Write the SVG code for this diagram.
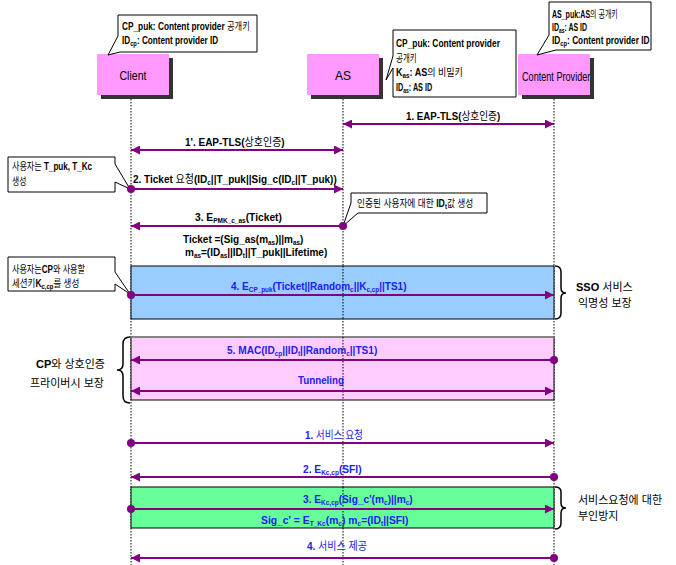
<svg xmlns="http://www.w3.org/2000/svg" width="676" height="565" viewBox="0 0 676 565">
<defs>
<marker id="ah" viewBox="0 0 10 10" refX="10" refY="5" markerWidth="9" markerHeight="9" markerUnits="userSpaceOnUse" orient="auto-start-reverse"><path d="M0,0 L10,5 L0,10 z" fill="#800080"/></marker>
<marker id="dot" viewBox="0 0 10 10" refX="5" refY="5" markerWidth="8" markerHeight="8" markerUnits="userSpaceOnUse"><circle cx="5" cy="5" r="5" fill="#800080"/></marker>
</defs>
<style>
text{font-family:"Liberation Sans","Noto Sans CJK KR",sans-serif;}
.t{font-size:10px;font-weight:bold;fill:#000;}
.m{font-size:11px;font-weight:bold;fill:#000;}
.b{font-size:11px;font-weight:bold;fill:#2020F0;}
.k{font-weight:normal;}
.s{font-size:7px;}
.lbl{font-size:12px;fill:#000;}
.msg{stroke:#800080;stroke-width:2;fill:none;}
.life{stroke:#000;stroke-width:1;stroke-dasharray:1.5,1.5;fill:none;}
.note{fill:#fff;stroke:#000;stroke-width:1;}
.brace{fill:none;stroke:#000;stroke-width:1.5;}
.side{font-size:11px;fill:#000;}
</style>
<rect width="676" height="565" fill="#fff"/>

<g id="lifelines">
<line class="life" x1="131" y1="99" x2="131" y2="565"/>
<line class="life" x1="343" y1="99" x2="343" y2="565"/>
<line class="life" x1="554" y1="99" x2="554" y2="565"/>
</g>

<g id="client">
<rect x="101" y="58" width="72" height="41" fill="#333"/>
<rect x="97" y="54" width="72" height="41" fill="#FF99FF"/>
<text class="lbl" transform="translate(119.5,80) scale(0.88,1)">Client</text>
</g>
<g id="as">
<rect x="311" y="58" width="72" height="41" fill="#333"/>
<rect x="307" y="54" width="72" height="41" fill="#FF99FF"/>
<text class="lbl" x="343" y="80" text-anchor="middle">AS</text>
</g>
<g id="cp">
<rect x="522" y="58" width="72" height="41" fill="#333"/>
<rect x="518" y="54" width="72" height="41" fill="#FF99FF"/>
<text class="lbl" font-size="11" transform="translate(522,81) scale(0.76,1)">Content Provider</text>
</g>

<g id="note-client">
<path class="note" d="M118,15 H257 V52 H120 L108,55 L118,36 Z"/>
<text class="t" transform="translate(122,30) scale(0.83,1)">CP_puk: Content provider <tspan class="k">공개키</tspan></text>
<text class="t" transform="translate(122,44) scale(0.82,1)">ID<tspan class="s" dy="2">cp</tspan><tspan dy="-2">: Content provider ID</tspan></text>
</g>
<g id="note-as">
<path class="note" d="M393,30 H516 V97 H393 V68 L386,80 L393,56 Z"/>
<text class="t" transform="translate(396,47) scale(0.84,1)">CP_puk: Content provider</text>
<text class="t k" transform="translate(396,62) scale(0.75,1)">공개키</text>
<text class="t" transform="translate(396,76) scale(0.9,1)">K<tspan class="s" dy="2">as</tspan><tspan dy="-2">: AS</tspan><tspan class="k">의 비밀키</tspan></text>
<text class="t" transform="translate(396,91) scale(0.72,1)">ID<tspan class="s" dy="2">as</tspan><tspan dy="-2">: AS ID</tspan></text>
</g>
<g id="note-cp">
<path class="note" d="M549,2 H651 V50 H556 L537,55 L549,35 Z"/>
<text class="t" transform="translate(552,18) scale(0.7,1)">AS_puk:AS<tspan class="k">의 공개키</tspan></text>
<text class="t" transform="translate(552,31) scale(0.7,1)">ID<tspan class="s" dy="2">as</tspan><tspan dy="-2">: AS ID</tspan></text>
<text class="t" transform="translate(552,44) scale(0.83,1)">ID<tspan class="s" dy="2">cp</tspan><tspan dy="-2">: Content provider ID</tspan></text>
</g>
<g id="note-tkc">
<path class="note" d="M8,157 H115 V164 L130,189 L115,182 V192 H8 Z"/>
<text class="t" transform="translate(12,170) scale(0.81,1)"><tspan class="k">사용자는 </tspan>T_puk, T_Kc</text>
<text class="t k" transform="translate(12,185) scale(0.78,1)">생성</text>
</g>
<g id="note-idt">
<path class="note" d="M351,193 H487 V213 H358 L343,226 L351,203 Z"/>
<text class="t" transform="translate(357,207) scale(0.87,1)"><tspan class="k">인증된 사용자에 대한 </tspan>ID<tspan class="s" dy="2">t</tspan><tspan class="k" dy="-2">값 생성</tspan></text>
</g>
<g id="note-kccp">
<path class="note" d="M8,257 H115 V272 L130,294 L115,284 V291 H8 Z"/>
<text class="t" transform="translate(12,273) scale(0.81,1)"><tspan class="k">사용자는</tspan>CP<tspan class="k">와 사용할</tspan></text>
<text class="t" transform="translate(12,287) scale(0.85,1)"><tspan class="k">세션키</tspan>K<tspan class="s" dy="2">c,cp</tspan><tspan class="k" dy="-2">를 생성</tspan></text>
</g>

<g id="regions">
<rect x="131" y="266" width="423" height="53" fill="#99CCFF" stroke="#000" stroke-width="1"/>
<rect x="131" y="337" width="423" height="63" fill="#FFCCFF" stroke="#000" stroke-width="1"/>
<line x1="131" y1="337" x2="554" y2="337" stroke="#888" stroke-width="1.5"/>
<rect x="131" y="487" width="423" height="41" fill="#66FF99" stroke="#000" stroke-width="1"/>
<line class="life" x1="343" y1="266" x2="343" y2="319"/>
<line class="life" x1="343" y1="337" x2="343" y2="400"/>
<line class="life" x1="343" y1="487" x2="343" y2="528"/>
</g>

<g id="braces">
<path class="brace" d="M555,266 Q561,266 561,272 V288 Q561,293 566,293 Q561,293 561,298 V313 Q561,319 555,319"/>
<path class="brace" d="M130,337 Q123,337 123,344 V364 Q123,370 117,370 Q123,370 123,376 V396 Q123,403 130,403"/>
<path class="brace" d="M555,487 Q561,487 561,492 V503 Q561,508 566,508 Q561,508 561,513 V523 Q561,529 555,529"/>
</g>

<g id="connectors">
<line class="msg" x1="343" y1="124" x2="554" y2="124" marker-start="url(#ah)" marker-end="url(#ah)"/>
<line class="msg" x1="131" y1="150" x2="343" y2="150" marker-start="url(#ah)" marker-end="url(#ah)"/>
<line class="msg" x1="131" y1="189" x2="343" y2="189" marker-start="url(#dot)" marker-end="url(#ah)"/>
<line class="msg" x1="343" y1="226" x2="131" y2="226" marker-start="url(#dot)" marker-end="url(#ah)"/>
<line class="msg" x1="131" y1="295" x2="554" y2="295" marker-start="url(#dot)" marker-end="url(#ah)"/>
<line class="msg" x1="554" y1="360" x2="131" y2="360" marker-start="url(#dot)" marker-end="url(#ah)"/>
<line class="msg" x1="131" y1="391" x2="554" y2="391" marker-start="url(#ah)" marker-end="url(#ah)"/>
<line class="msg" x1="131" y1="443" x2="554" y2="443" marker-start="url(#dot)" marker-end="url(#ah)"/>
<line class="msg" x1="554" y1="477" x2="131" y2="477" marker-start="url(#dot)" marker-end="url(#ah)"/>
<line class="msg" x1="131" y1="509" x2="554" y2="509" marker-start="url(#dot)" marker-end="url(#ah)"/>
<line class="msg" x1="554" y1="558" x2="131" y2="558" marker-start="url(#dot)" marker-end="url(#ah)"/>
</g>

<g id="labels">
<text class="m" transform="translate(406,120) scale(0.88,1)">1. EAP-TLS(<tspan class="k">상호인증</tspan>)</text>
<text class="m" transform="translate(185,146) scale(0.91,1)">1'. EAP-TLS(<tspan class="k">상호인증</tspan>)</text>
<text class="m" transform="translate(133,183) scale(0.91,1)">2. Ticket <tspan class="k">요청</tspan>(ID<tspan class="s" dy="2">c</tspan><tspan dy="-2">||T_puk||Sig_c(ID</tspan><tspan class="s" dy="2">c</tspan><tspan dy="-2">||T_puk))</tspan></text>
<text class="m" transform="translate(195,221) scale(0.93,1)">3. E<tspan class="s" dy="2">PMK_c_as</tspan><tspan dy="-2">(Ticket)</tspan></text>
<text class="m" transform="translate(183,243) scale(0.91,1)">Ticket =(Sig_as(m<tspan class="s" dy="2">as</tspan><tspan dy="-2">)||m</tspan><tspan class="s" dy="2">as</tspan><tspan dy="-2">)</tspan></text>
<text class="m" transform="translate(185,256) scale(0.91,1)">m<tspan class="s" dy="2">as</tspan><tspan dy="-2">=(ID</tspan><tspan class="s" dy="2">as</tspan><tspan dy="-2">||ID</tspan><tspan class="s" dy="2">t</tspan><tspan dy="-2">||T_puk||Lifetime)</tspan></text>
<text class="b" transform="translate(231,290) scale(0.91,1)">4. E<tspan class="s" dy="2">CP_puk</tspan><tspan dy="-2">(Ticket||Random</tspan><tspan class="s" dy="2">c</tspan><tspan dy="-2">||K</tspan><tspan class="s" dy="2">c,cp</tspan><tspan dy="-2">||TS1)</tspan></text>
<text class="b" transform="translate(227,354) scale(0.92,1)">5. MAC(ID<tspan class="s" dy="2">cp</tspan><tspan dy="-2">||ID</tspan><tspan class="s" dy="2">t</tspan><tspan dy="-2">||Random</tspan><tspan class="s" dy="2">c</tspan><tspan dy="-2">||TS1)</tspan></text>
<text class="b" transform="translate(298,384) scale(0.89,1)">Tunneling</text>
<text class="b" transform="translate(305,439) scale(0.88,1)">1. <tspan class="k">서비스 요청</tspan></text>
<text class="b" transform="translate(303,473) scale(0.93,1)">2. E<tspan class="s" dy="2">Kc,cp</tspan><tspan dy="-2">(SFI)</tspan></text>
<text class="b" transform="translate(303,503) scale(0.925,1)">3. E<tspan class="s" dy="2">Kc,cp</tspan><tspan dy="-2">(Sig_c'(m</tspan><tspan class="s" dy="2">c</tspan><tspan dy="-2">)||m</tspan><tspan class="s" dy="2">c</tspan><tspan dy="-2">)</tspan></text>
<text class="b" transform="translate(261,524) scale(0.94,1)">Sig_c' = E<tspan class="s" dy="2">T_Kc</tspan><tspan dy="-2">(m</tspan><tspan class="s" dy="2">c</tspan><tspan dy="-2">)  m</tspan><tspan class="s" dy="2">c</tspan><tspan dy="-2">=(ID</tspan><tspan class="s" dy="2">t</tspan><tspan dy="-2">||SFI)</tspan></text>
<text class="b" transform="translate(307,550) scale(0.91,1)">4. <tspan class="k">서비스 제공</tspan></text>
<text class="side" x="576" y="291"><tspan font-weight="bold">SSO</tspan> 서비스</text>
<text class="side" x="578" y="307">익명성 보장</text>
<text class="side" x="36" y="368"><tspan font-weight="bold">CP</tspan>와 상호인증</text>
<text class="side" x="30" y="387">프라이버시 보장</text>
<text class="side" x="578" y="504">서비스요청에 대한</text>
<text class="side" x="578" y="520">부인방지</text>
</g>
</svg>
